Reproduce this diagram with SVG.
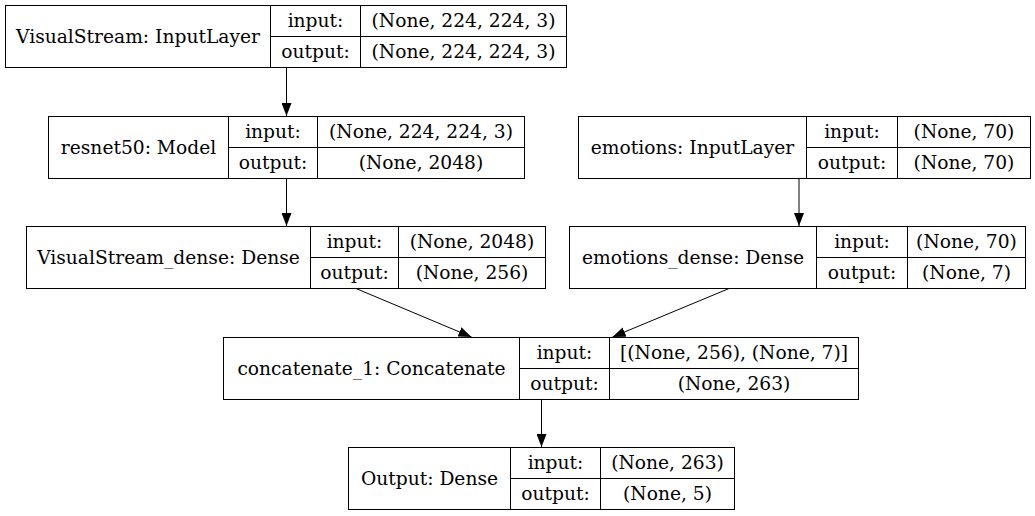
<svg xmlns="http://www.w3.org/2000/svg" width="1035" height="516" viewBox="0 0 1035 516">
<defs>
<style>
.box{fill:#fff;stroke:#000;stroke-width:1}
.ln{stroke:#000;stroke-width:1;fill:none}
text{font-family:"DejaVu Serif",serif;font-size:18.67px;fill:#000;text-anchor:middle}
.edge{stroke:#000;stroke-width:1;fill:none;marker-end:url(#ah)}
</style>
<marker id="ah" markerUnits="userSpaceOnUse" markerWidth="13" markerHeight="10" refX="13" refY="5" orient="auto" viewBox="0 0 13 10">
<path d="M0,0 L13,5 L0,10 z" fill="#000"/>
</marker>
</defs>
<rect width="1035" height="516" fill="#fff"/>

<g id="connectors">
<line class="edge" x1="286.5" y1="67" x2="286.5" y2="116"/>
<line class="edge" x1="286.5" y1="178" x2="286.5" y2="226"/>
<line class="edge" x1="799" y1="178" x2="799" y2="226"/>
<line class="edge" x1="356" y1="288.5" x2="471.5" y2="337"/>
<line class="edge" x1="729" y1="288.5" x2="612.5" y2="337"/>
<line class="edge" x1="541.5" y1="399" x2="541.5" y2="447"/>
</g>

<g id="visualstream">
<rect class="box" x="5.5" y="5.5" width="561" height="62"/>
<line class="ln" x1="270.5" y1="5.5" x2="270.5" y2="67.5"/>
<line class="ln" x1="360.5" y1="5.5" x2="360.5" y2="67.5"/>
<line class="ln" x1="270.5" y1="36.5" x2="566.5" y2="36.5"/>
<text x="138" y="43">VisualStream: InputLayer</text>
<text x="315.5" y="27">input:</text>
<text x="315.5" y="58">output:</text>
<text x="463.5" y="27">(None, 224, 224, 3)</text>
<text x="463.5" y="58">(None, 224, 224, 3)</text>
</g>

<g id="resnet50">
<rect class="box" x="48.5" y="116.5" width="476" height="62"/>
<line class="ln" x1="228.5" y1="116.5" x2="228.5" y2="178.5"/>
<line class="ln" x1="317.5" y1="116.5" x2="317.5" y2="178.5"/>
<line class="ln" x1="228.5" y1="147.5" x2="524.5" y2="147.5"/>
<text x="138.5" y="154">resnet50: Model</text>
<text x="273" y="138">input:</text>
<text x="273" y="169">output:</text>
<text x="421" y="138">(None, 224, 224, 3)</text>
<text x="421" y="169">(None, 2048)</text>
</g>

<g id="emotions">
<rect class="box" x="578.5" y="116.5" width="452" height="62"/>
<line class="ln" x1="806.5" y1="116.5" x2="806.5" y2="178.5"/>
<line class="ln" x1="897.5" y1="116.5" x2="897.5" y2="178.5"/>
<line class="ln" x1="806.5" y1="147.5" x2="1030.5" y2="147.5"/>
<text x="692.5" y="154">emotions: InputLayer</text>
<text x="852" y="138">input:</text>
<text x="852" y="169">output:</text>
<text x="964" y="138">(None, 70)</text>
<text x="964" y="169">(None, 70)</text>
</g>

<g id="visualstream_dense">
<rect class="box" x="26.5" y="226.5" width="519" height="62"/>
<line class="ln" x1="310.5" y1="226.5" x2="310.5" y2="288.5"/>
<line class="ln" x1="398.5" y1="226.5" x2="398.5" y2="288.5"/>
<line class="ln" x1="310.5" y1="257.5" x2="545.5" y2="257.5"/>
<text x="168.5" y="264">VisualStream_dense: Dense</text>
<text x="354.5" y="248">input:</text>
<text x="354.5" y="279">output:</text>
<text x="472" y="248">(None, 2048)</text>
<text x="472" y="279">(None, 256)</text>
</g>

<g id="emotions_dense">
<rect class="box" x="569.5" y="226.5" width="456" height="62"/>
<line class="ln" x1="816.5" y1="226.5" x2="816.5" y2="288.5"/>
<line class="ln" x1="907.5" y1="226.5" x2="907.5" y2="288.5"/>
<line class="ln" x1="816.5" y1="257.5" x2="1025.5" y2="257.5"/>
<text x="693" y="264">emotions_dense: Dense</text>
<text x="862" y="248">input:</text>
<text x="862" y="279">output:</text>
<text x="966.5" y="248">(None, 70)</text>
<text x="966.5" y="279">(None, 7)</text>
</g>

<g id="concatenate_1">
<rect class="box" x="223.5" y="337.5" width="635" height="62"/>
<line class="ln" x1="519.5" y1="337.5" x2="519.5" y2="399.5"/>
<line class="ln" x1="609.5" y1="337.5" x2="609.5" y2="399.5"/>
<line class="ln" x1="519.5" y1="368.5" x2="858.5" y2="368.5"/>
<text x="371.5" y="375">concatenate_1: Concatenate</text>
<text x="564.5" y="359">input:</text>
<text x="564.5" y="390">output:</text>
<text x="734" y="359">[(None, 256), (None, 7)]</text>
<text x="734" y="390">(None, 263)</text>
</g>

<g id="output">
<rect class="box" x="348.5" y="447.5" width="386" height="62"/>
<line class="ln" x1="510.5" y1="447.5" x2="510.5" y2="509.5"/>
<line class="ln" x1="600.5" y1="447.5" x2="600.5" y2="509.5"/>
<line class="ln" x1="510.5" y1="478.5" x2="734.5" y2="478.5"/>
<text x="429.5" y="485">Output: Dense</text>
<text x="555.5" y="469">input:</text>
<text x="555.5" y="500">output:</text>
<text x="667.5" y="469">(None, 263)</text>
<text x="667.5" y="500">(None, 5)</text>
</g>
</svg>
